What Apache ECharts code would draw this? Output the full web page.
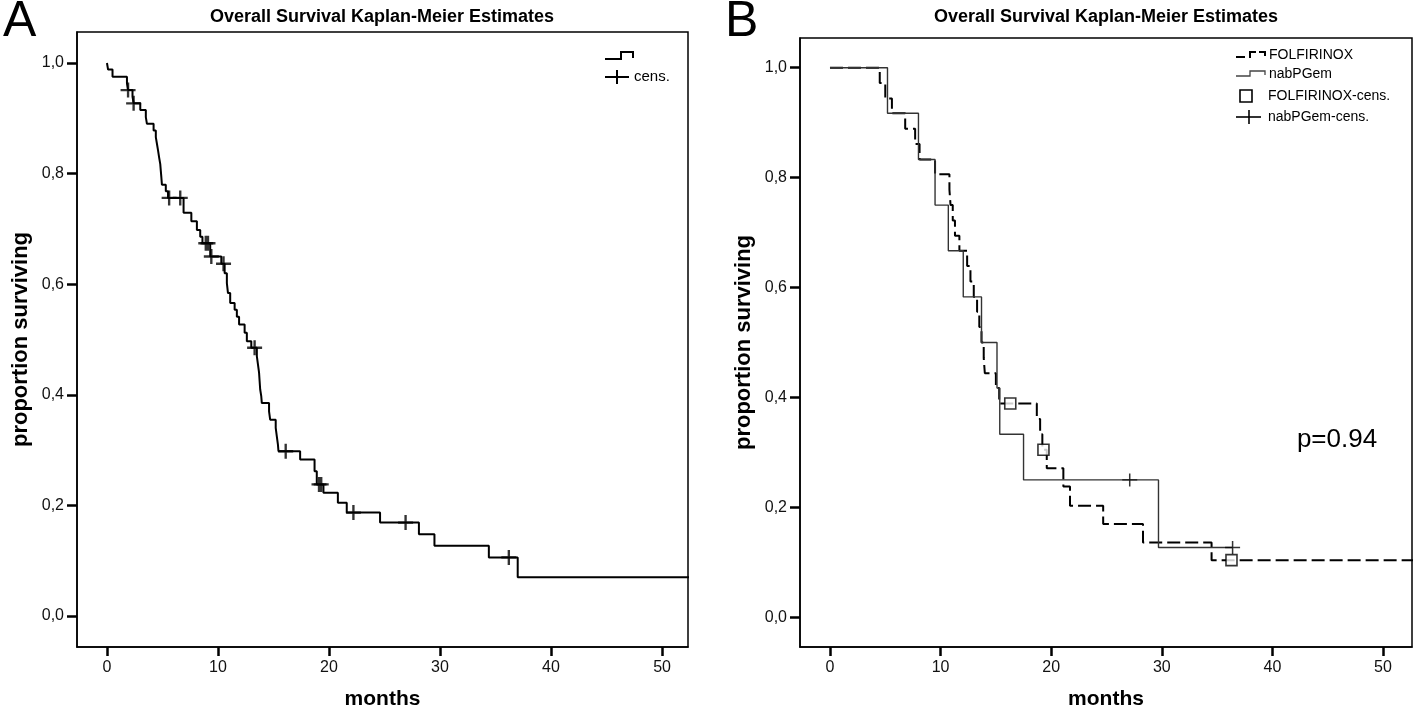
<!DOCTYPE html>
<html><head><meta charset="utf-8">
<script src="https://cdn.jsdelivr.net/npm/echarts@6/dist/echarts.min.js"></script>
<style>html,body{margin:0;padding:0;background:#fff}#c{width:1418px;height:715px}</style>
</head><body><div id="c"></div>
<script>
// ---- tick labels ----
const xTickValues = [0, 10, 20, 30, 40, 50];
const yTickValues = [0, 0.2, 0.4, 0.6, 0.8, 1.0];

// ---- Panel A: overall KM curve (event times in months, survival after event) ----
const panelATime = [0, 0.1, 0.5, 1.8, 1.9, 2.3, 2.4, 3.0, 3.5, 3.6, 4.2, 4.4, 4.5, 4.6, 4.7, 4.8, 4.85, 4.9, 4.95, 5.3, 5.5, 6.9, 7.6, 8.1, 8.4, 8.6, 9.3, 10.3, 10.6, 10.8, 10.9, 11.1, 11.5, 11.7, 11.9, 12.4, 12.6, 13.0, 13.5, 13.6, 13.7, 13.75, 13.8, 13.9, 13.95, 14.6, 14.7, 15.2, 15.3, 15.4, 15.45, 17.4, 18.7, 18.9, 19.5, 20.8, 21.6, 24.6, 28.1, 29.5, 34.4, 37.0, 55];
const panelASurv = [1.0, 0.988, 0.975, 0.963, 0.951, 0.939, 0.927, 0.915, 0.902, 0.890, 0.878, 0.866, 0.854, 0.842, 0.829, 0.817, 0.805, 0.793, 0.780, 0.768, 0.756, 0.729, 0.714, 0.698, 0.686, 0.674, 0.650, 0.637, 0.620, 0.602, 0.584, 0.566, 0.554, 0.541, 0.527, 0.512, 0.497, 0.485, 0.470, 0.455, 0.440, 0.425, 0.410, 0.397, 0.385, 0.370, 0.355, 0.340, 0.325, 0.310, 0.298, 0.283, 0.262, 0.238, 0.223, 0.205, 0.187, 0.169, 0.148, 0.127, 0.106, 0.070, 0.070];
const panelACensTime = [1.9, 2.4, 5.6, 6.6, 8.9, 9.1, 9.4, 10.5, 13.3, 16.1, 19.1, 19.3, 22.2, 26.9, 36.2];
const panelACensSurv = [0.951, 0.927, 0.756, 0.756, 0.674, 0.674, 0.650, 0.637, 0.485, 0.298, 0.238, 0.238, 0.187, 0.169, 0.106];

// ---- Panel B: FOLFIRINOX ----
const folfTime = [0, 4.5, 5.0, 5.6, 6.8, 7.7, 8.1, 9.5, 10.8, 10.9, 11.1, 11.3, 11.7, 12.4, 12.7, 13.0, 13.3, 13.5, 13.7, 13.9, 14.0, 15.0, 15.3, 18.7, 19.0, 19.2, 19.6, 21.1, 21.7, 24.7, 28.3, 34.5, 55];
const folfSurv = [1.0, 0.972, 0.944, 0.917, 0.889, 0.861, 0.833, 0.806, 0.778, 0.750, 0.722, 0.694, 0.667, 0.639, 0.611, 0.583, 0.556, 0.528, 0.500, 0.472, 0.444, 0.417, 0.389, 0.361, 0.333, 0.305, 0.271, 0.238, 0.203, 0.170, 0.136, 0.104, 0.104];
const folfCensTime = [16.3, 19.3, 36.3];
const folfCensSurv = [0.389, 0.305, 0.104];

// ---- Panel B: nabPGem ----
const nabTime = [0, 5.2, 8.0, 9.5, 10.7, 12.05, 13.7, 15.1, 15.35, 17.5, 29.7, 36.4];
const nabSurv = [1.0, 0.917, 0.833, 0.750, 0.667, 0.583, 0.500, 0.417, 0.333, 0.250, 0.127, 0.127];
const nabCensTime = [27.1, 36.4];
const nabCensSurv = [0.250, 0.127];

const pValueText = 'p=0.94';
const chartTitle = 'Overall Survival Kaplan-Meier Estimates';

function pairs(t, s) { return t.map((v, i) => [v, s[i]]); }
const FONT = '"Liberation Sans", Arial, sans-serif';
const PLUS = 'path://M-1.1,-7H1.1V-1.1H7V1.1H1.1V7H-1.1V1.1H-7V-1.1H-1.1Z';
const PLUS_THIN = 'path://M-0.7,-7H0.7V-0.7H7V0.7H0.7V7H-0.7V0.7H-7V-0.7H-0.7Z';

function mkX(grid, min, max) {
  return {
    type: 'value', gridIndex: grid, min: min, max: max,
    name: 'months', nameLocation: 'middle', nameGap: 42,
    nameTextStyle: { fontFamily: FONT, fontWeight: 'bold', fontSize: 21, color: '#000' },
    axisLine: { show: true, onZero: false, lineStyle: { color: '#000', width: 1.5 } },
    axisTick: { show: true, customValues: xTickValues, length: 9, lineStyle: { color: '#000', width: 2.5 } },
    axisLabel: { customValues: xTickValues, margin: 13, fontFamily: FONT, fontSize: 16, color: '#111' },
    splitLine: { show: false }
  };
}
function mkY(grid, min, max) {
  return {
    type: 'value', gridIndex: grid, min: min, max: max,
    name: 'proportion surviving', nameLocation: 'middle', nameGap: 45,
    nameTextStyle: { fontFamily: FONT, fontWeight: 'bold', fontSize: 22, color: '#000' },
    axisLine: { show: true, onZero: false, lineStyle: { color: '#000', width: 1.5 } },
    axisTick: { show: true, customValues: yTickValues, length: 10, lineStyle: { color: '#000', width: 2.5 } },
    axisLabel: { customValues: yTickValues, margin: 13, fontFamily: FONT, fontSize: 16, color: '#111',
      formatter: v => v.toFixed(1).replace('.', ',') },
    splitLine: { show: false }
  };
}

const chart = echarts.init(document.getElementById('c'), null, { renderer: 'canvas' });
const txt = (x, y, s, size, weight, align) => ({
  type: 'text', x: x, y: y, silent: true,
  style: { text: s, font: (weight || 'normal') + ' ' + size + 'px ' + FONT, fill: '#000',
    align: align || 'left', verticalAlign: 'middle' }
});
const poly = (pts, w, color, dash) => ({
  type: 'polyline', silent: true, shape: { points: pts },
  style: { stroke: color || '#000', lineWidth: w, fill: null, lineDash: dash || null }
});

chart.setOption({
  animation: false,
  backgroundColor: '#fff',
  grid: [
    { left: 77, top: 32, width: 611, height: 616, show: true, borderColor: '#000', borderWidth: 1.5 },
    { left: 800, top: 38, width: 612, height: 614, show: true, borderColor: '#000', borderWidth: 1.5 }
  ],
  xAxis: [mkX(0, -2.7, 52.34), mkX(1, -2.71, 52.62)],
  yAxis: [mkY(0, -0.056, 1.056), mkY(1, -0.054, 1.054)],
  series: [
    { type: 'line', xAxisIndex: 0, yAxisIndex: 0, step: 'end', symbol: 'none', clip: true,
      lineStyle: { color: '#000', width: 2 }, data: pairs(panelATime, panelASurv) },
    { type: 'scatter', xAxisIndex: 0, yAxisIndex: 0, symbol: PLUS, symbolSize: [15, 15],
      itemStyle: { color: '#000' }, z: 5, data: pairs(panelACensTime, panelACensSurv) },
    { type: 'line', xAxisIndex: 1, yAxisIndex: 1, step: 'end', symbol: 'none', clip: true,
      lineStyle: { color: '#000', width: 2, type: [13, 5] }, data: pairs(folfTime, folfSurv) },
    { type: 'line', xAxisIndex: 1, yAxisIndex: 1, step: 'end', symbol: 'none', clip: true,
      lineStyle: { color: '#333', width: 1.4 }, data: pairs(nabTime, nabSurv) },
    { type: 'scatter', xAxisIndex: 1, yAxisIndex: 1, symbol: 'rect', symbolSize: 11,
      itemStyle: { color: '#fff', borderColor: '#000', borderWidth: 1.6 }, z: 5,
      data: pairs(folfCensTime, folfCensSurv) },
    { type: 'scatter', xAxisIndex: 1, yAxisIndex: 1, symbol: PLUS_THIN, symbolSize: [15, 13],
      itemStyle: { color: '#000' }, z: 5, data: pairs(nabCensTime, nabCensSurv) }
  ],
  graphic: [
    txt(3, 22, 'A', 50, 'normal'),
    txt(725, 22, 'B', 50, 'normal'),
    txt(382, 17, chartTitle, 18, 'bold', 'center'),
    txt(1106, 17, chartTitle, 18, 'bold', 'center'),
    // legend A
    poly([[605, 59], [621, 59], [621, 52], [633, 52], [633, 58]], 2),
    poly([[605, 77], [629, 77]], 2), poly([[617, 70], [617, 84]], 2),
    txt(634, 77, 'cens.', 15),
    // legend B
    poly([[1236, 57], [1245, 57]], 2), poly([[1249, 57], [1250, 57], [1250, 52], [1256, 52]], 2),
    poly([[1259, 52], [1265, 52], [1265, 56]], 2),
    txt(1269, 55, 'FOLFIRINOX', 14),
    poly([[1236, 76], [1250, 76], [1250, 71], [1265, 71], [1265, 75]], 1.3, '#444'),
    txt(1269, 74, 'nabPGem', 14),
    { type: 'rect', silent: true, shape: { x: 1240, y: 90, width: 12, height: 12 },
      style: { fill: null, stroke: '#000', lineWidth: 1.6 } },
    txt(1268, 96, 'FOLFIRINOX-cens.', 14),
    poly([[1236, 117], [1261, 117]], 1.6), poly([[1249, 110], [1249, 124]], 1.6),
    txt(1268, 117, 'nabPGem-cens.', 14),
    txt(1337, 440, pValueText, 26, 'normal', 'center')
  ]
});
</script></body></html>
